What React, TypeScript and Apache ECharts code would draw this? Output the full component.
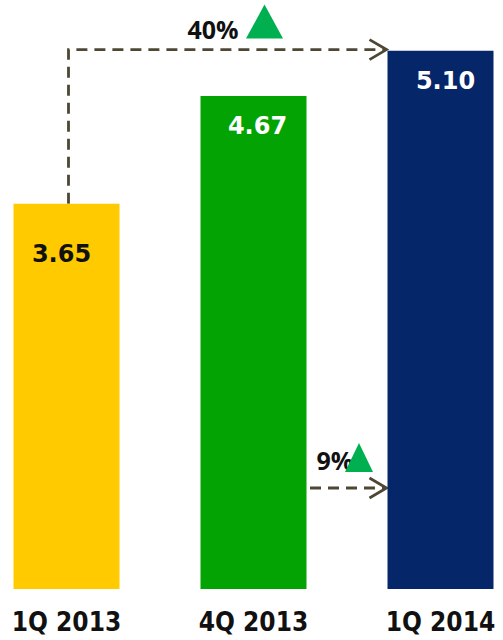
import React, { useEffect, useRef } from "react";
import * as echarts from "echarts";

const categories = ["1Q 2013", "4Q 2013", "1Q 2014"];
const values = [3.65, 4.67, 5.1];
const barColors = ["#FFCA00", "#03A303", "#052669"];
const labelColors = ["#111111", "#ffffff", "#ffffff"];
const growthLabels = ["40%", "9%"];

export default function App() {
  const ref = useRef<HTMLDivElement>(null);
  useEffect(() => {
    if (!ref.current) return;
    const chart = echarts.init(ref.current, null, { renderer: "svg" });
    const barWidth = 106;
    const labelDist = [38, 18, 18];
    const labelOffX = [-5, 4, 5];
    chart.setOption({
      animation: false,
      backgroundColor: "#ffffff",
      grid: { left: -27, right: -31, top: 0, bottom: 51, containLabel: false, outerBoundsMode: "none" },
      xAxis: {
        type: "category",
        data: categories,
        axisLine: { show: false },
        axisTick: { show: false },
        axisLabel: {
          margin: 20,
          color: "#111111",
          fontFamily: "DejaVu Sans Condensed",
          fontWeight: "bold",
          fontSize: 26,
        },
      },
      yAxis: { type: "value", min: 0, max: 5.58, show: false, splitLine: { show: false } },
      series: [
        {
          type: "bar",
          barWidth,
          data: values.map((v, i) => ({
            value: v,
            itemStyle: { color: barColors[i] },
            label: {
              show: true,
              position: "insideTop",
              distance: labelDist[i],
              offset: [labelOffX[i], 0],
              color: labelColors[i],
              fontFamily: "DejaVu Sans",
              fontWeight: "bold",
              fontSize: 24,
              formatter: (p: any) => p.value.toFixed(2),
            },
          })),
        },
      ],
    });

    const px = (c: number, v: number) => chart.convertToPixel({ gridIndex: 0 }, [c, v]) as number[];
    const stroke = "#4d4733";
    const x0 = px(0, 0)[0] + 2;
    const yBar1 = px(0, values[0])[1];
    const yTop = px(0, 5.11)[1];
    const xEnd = px(2, 0)[0] - barWidth / 2 - 1;
    const cx1 = px(1, 0)[0];
    const bar2Right = cx1 + barWidth / 2;
    const yBot = px(1, 0.957)[1];
    const green = "#00B050";
    const dash = [11, 7];

    chart.setOption({
      graphic: [
        {
          type: "polyline",
          shape: { points: [[x0, yBar1], [x0, yTop], [xEnd - 2, yTop]] },
          style: { stroke, lineWidth: 2.8, lineDash: dash, fill: null },
        },
        {
          type: "polyline",
          shape: { points: [[xEnd - 17, yTop - 10], [xEnd, yTop], [xEnd - 17, yTop + 10]] },
          style: { stroke, lineWidth: 2.8, fill: null },
        },
        {
          type: "text",
          x: cx1 - 15,
          y: yTop - 21,
          style: {
            text: growthLabels[0],
            align: "right",
            verticalAlign: "middle",
            fill: "#111111",
            font: "bold 25px 'Open Sans'",
          },
        },
        {
          type: "polygon",
          shape: { points: [[cx1 + 11, yTop - 45], [cx1 - 7.5, yTop - 11], [cx1 + 29.5, yTop - 11]] },
          style: { fill: green },
        },
        {
          type: "polyline",
          shape: { points: [[bar2Right + 3.5, yBot], [xEnd - 2, yBot]] },
          style: { stroke, lineWidth: 2.8, lineDash: dash, fill: null },
        },
        {
          type: "polyline",
          shape: { points: [[xEnd - 17, yBot - 10], [xEnd, yBot], [xEnd - 17, yBot + 10]] },
          style: { stroke, lineWidth: 2.8, fill: null },
        },
        {
          type: "text",
          x: bar2Right + 10,
          y: yBot - 28,
          style: {
            text: growthLabels[1],
            align: "left",
            verticalAlign: "middle",
            fill: "#111111",
            font: "bold 25px 'Open Sans'",
          },
        },
        {
          type: "polygon",
          shape: {
            points: [[bar2Right + 52.5, yBot - 45], [bar2Right + 38.5, yBot - 16], [bar2Right + 66.5, yBot - 16]],
          },
          style: { fill: green },
        },
      ],
    });
    return () => chart.dispose();
  }, []);
  return (
    <div
      ref={ref}
      style={{ position: "fixed", left: 0, top: 0, width: 503, height: 640, background: "#fff" }}
    />
  );
}
